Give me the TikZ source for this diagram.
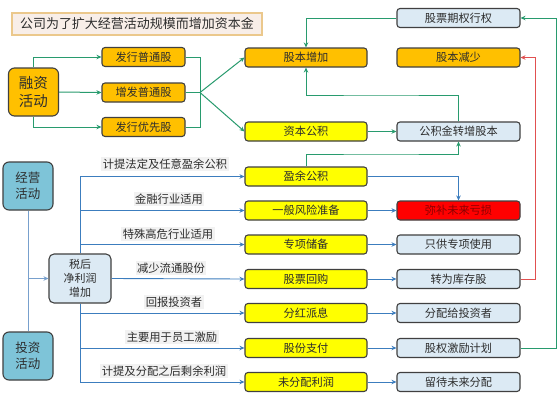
\documentclass[tikz,border=0pt]{standalone}
\usepackage{fontspec}
\setmainfont{Noto Sans CJK SC}
\usetikzlibrary{arrows.meta,backgrounds}
\pgfdeclarelayer{bgzero}
\pgfsetlayers{bgzero,background,main}
\definecolor{gline}{RGB}{40,155,110}
\definecolor{bline}{RGB}{60,125,190}
\definecolor{lbline}{RGB}{120,160,205}
\definecolor{rline}{RGB}{225,80,80}
\definecolor{orng}{RGB}{255,192,0}
\definecolor{yel}{RGB}{255,255,0}
\definecolor{lblue}{RGB}{220,234,244}
\definecolor{mblue}{RGB}{126,196,216}
\definecolor{bord}{RGB}{64,64,64}
\definecolor{txt}{RGB}{45,45,45}
\definecolor{titfill}{RGB}{248,238,232}
\definecolor{titbord}{RGB}{235,200,140}
\definecolor{lblfill}{RGB}{242,242,242}
\definecolor{dred}{RGB}{140,0,0}
\tikzset{
  box/.style={draw=bord, line width=1.1pt, rounded corners=3pt, minimum height=19pt, inner sep=0pt, text=txt, font=\fontsize{11.2}{12}\selectfont},
  colA/.style={box, minimum width=122pt},
  colB/.style={box, minimum width=123pt},
  colS/.style={box, minimum width=83pt},
  big/.style={draw=bord, line width=1.1pt, rounded corners=6pt, minimum width=50pt, minimum height=48pt, inner sep=0pt, text=txt, align=center},
  lbl/.style={fill=lblfill, inner sep=1.5pt, text=txt, font=\fontsize{11.3}{12}\selectfont},
  tip/.style={-{Stealth[length=5pt,width=4.5pt]}},
  gar/.style={draw=gline, line width=1pt, tip},
  gln/.style={draw=gline, line width=1pt},
  bar/.style={draw=bline, line width=0.9pt, tip},
  bln/.style={draw=bline, line width=0.9pt},
  rar/.style={draw=rline, line width=0.9pt, tip},
}
\begin{document}
\begin{tikzpicture}[x=1pt,y=-1pt]
\useasboundingbox (0,0) rectangle (558,400);
\begin{pgfonlayer}{bgzero}
\fill[white] (0,0) rectangle (558,400);
\end{pgfonlayer}
% title
\node[draw=titbord, line width=1.2pt, fill=titfill, minimum width=250pt, minimum height=22pt, inner sep=0pt, text=txt, font=\fontsize{13}{14}\selectfont] (title) at (137,24) {公司为了扩大经营活动规模而增加资本金};
% financing
\node[big, fill=orng, font=\fontsize{14.5}{18}\selectfont] (rz) at (33.5,92) {融资\\活动};
\node[colS, fill=orng] (fx1) at (143.5,57) {发行普通股};
\node[colS, fill=orng] (zf) at (143.5,92.5) {增发普通股};
\node[colS, fill=orng] (fxy) at (143.5,127) {发行优先股};
% column A
\node[colA, fill=orng] (gbzj) at (306,57.5) {股本增加};
\node[colA, fill=yel] (zbgj) at (306,131.5) {资本公积};
\node[colA, fill=yel] (yy) at (306,176.5) {盈余公积};
\node[colA, fill=yel] (yb) at (306,210.5) {一般风险准备};
\node[colA, fill=yel] (zx) at (306,244.5) {专项储备};
\node[colA, fill=yel] (hg) at (306,279) {股票回购};
\node[colA, fill=yel] (fh) at (306,313) {分红派息};
\node[colA, fill=yel] (gf) at (306,348) {股份支付};
\node[colA, fill=yel] (wf) at (306,382) {未分配利润};
% column B
\node[colB, fill=lblue] (qq) at (458.5,18) {股票期权行权};
\node[colB, fill=orng] (gbjs) at (458.5,57.5) {股本减少};
\node[colB, fill=lblue] (gjj) at (458.5,131.5) {公积金转增股本};
\node[colB, fill=red, text=dred] (mb) at (458.5,210.5) {弥补未来亏损};
\node[colB, fill=lblue] (zg) at (458.5,244.5) {只供专项使用};
\node[colB, fill=lblue] (kc) at (458.5,279) {转为库存股};
\node[colB, fill=lblue] (fp) at (458.5,313) {分配给投资者};
\node[colB, fill=lblue] (gq) at (458.5,348) {股权激励计划};
\node[colB, fill=lblue] (lf) at (458.5,382) {留待未来分配};
% left lower
\node[big, fill=mblue, font=\fontsize{12.5}{16}\selectfont] (jy) at (28,186) {经营\\活动};
\node[big, fill=mblue, font=\fontsize{12.5}{16}\selectfont] (tz) at (28,356) {投资\\活动};
\node[draw=bord, line width=1.1pt, rounded corners=5pt, fill=lblue, minimum width=62pt, minimum height=49pt, inner sep=0pt, text=txt, align=center, font=\fontsize{11}{14}\selectfont] (sh) at (80,278.5) {税后\\净利润\\增加};
\coordinate (j1) at (200,92.5);
\coordinate (m1) at (380,95);
\coordinate (m2) at (380,154);
\coordinate (rr) at (556,348);
\coordinate (rd) at (535,279);
% --- green connectors
\draw[gar] (rz.north) |- (fx1.west);
\draw[gar] (rz.east) -- (zf.west);
\draw[gar] (rz.south) |- (fxy.west);
\draw[gln] (fx1.east) -| (j1);
\draw[gln] (fxy.east) -| (j1);
\draw[gln] (zf.east) -- (j1);
\draw[gar] (j1) -- (gbzj.west);
\draw[gar] (j1) -- (zbgj.west);
\draw[gar] (qq.west) -| (gbzj.north);
\draw[gar] (gjj.north) |- (m1) -| (gbzj.south);
\draw[gar] (zbgj.east) -- (gjj.west);
\draw[gar] (yy.north) |- (m2) -| (gjj.south);
\draw[gar] (gq.east) -- (rr) |- (qq.east);
% --- red connector
\draw[rar] (kc.east) -- (rd) |- (gbjs.east);
% --- blue connectors
\begin{pgfonlayer}{background}
\draw[draw=lbline, line width=0.8pt] (jy.south) -- (tz.north);
\draw[bar] (sh.north) |- (yy.west);
\draw[bar] (sh.north) |- (yb.west);
\draw[bar] (sh.north) |- (zx.west);
\draw[bar] (sh.south) |- (fh.west);
\draw[bar] (sh.south) |- (gf.west);
\draw[bar] (sh.south) |- (wf.west);
\end{pgfonlayer}
\draw[draw=lbline, line width=0.8pt, tip] (jy.south |- sh.west) -- (sh.west);
\draw[bar] (sh.east) -- (hg.west);
\draw[bar] (yy.east) -| (mb.north);
\draw[bar] (yb.east) -- (mb.west);
\draw[bar] (zx.east) -- (zg.west);
\draw[bar] (hg.east) -- (kc.west);
\draw[bar] (fh.east) -- (fp.west);
\draw[bar] (gf.east) -- (gq.west);
\draw[bar] (wf.east) -- (lf.west);
% --- labels
\node[lbl] (l1) at (165,164) {计提法定及任意盈余公积};
\node[lbl] (l2) at (169,199) {金融行业适用};
\node[lbl] (l3) at (168,234) {特殊高危行业适用};
\node[lbl] (l4) at (171,268) {减少流通股份};
\node[lbl] (l5) at (174,302) {回报投资者};
\node[lbl] (l6) at (172,337) {主要用于员工激励};
\node[lbl] (l7) at (164,371) {计提及分配之后剩余利润};
\end{tikzpicture}
\end{document}
